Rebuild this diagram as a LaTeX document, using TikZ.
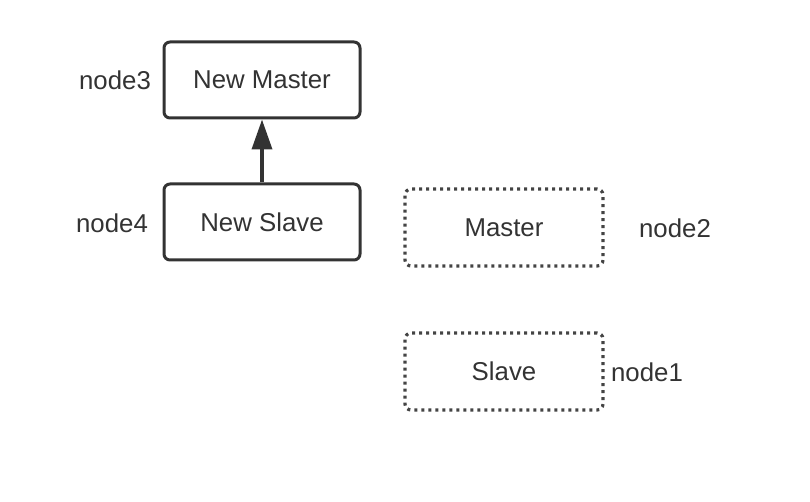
\documentclass[tikz,border=0pt]{standalone}
\usepackage{fontspec}
\setmainfont{Liberation Sans}
\usetikzlibrary{arrows.meta}
\definecolor{ink}{HTML}{333333}
\definecolor{dotink}{HTML}{444444}
\begin{document}
\begin{tikzpicture}[x=1pt,y=-1pt,
  solidbox/.style={draw=ink,line width=3pt,rounded corners=6pt,minimum width=196pt,minimum height=76pt,inner sep=0pt,font=\fontsize{25.8}{30}\selectfont,text=ink},
  dotbox/.style={draw=dotink,line width=3.2pt,dash pattern=on 3pt off 4pt,rounded corners=6pt,minimum width=198pt,minimum height=77pt,inner sep=0pt,font=\fontsize{25.8}{30}\selectfont,text=ink},
  lbl/.style={font=\fontsize{25.8}{30}\selectfont,text=ink,inner sep=0pt},
  conn/.style={draw=ink,line width=3.6pt,-{Triangle[length=30pt,width=20pt]}}]
\useasboundingbox (0,0) rectangle (810,502);
\fill[white] (0,0) rectangle (810,502);
\node[solidbox] (nm) at (262,80) {New Master};
\node[solidbox] (ns) at (262,222) {New Slave};
\node[dotbox] (m) at (504,227.5) {Master};
\node[dotbox] (s) at (504,371.5) {Slave};
\node[lbl] (l3) at (115,80) {node3};
\node[lbl] (l4) at (112,223) {node4};
\node[lbl] (l2) at (675,228) {node2};
\node[lbl] (l1) at (647,372) {node1};
\draw[conn] (ns.north) -- (nm.south);
\end{tikzpicture}
\end{document}
